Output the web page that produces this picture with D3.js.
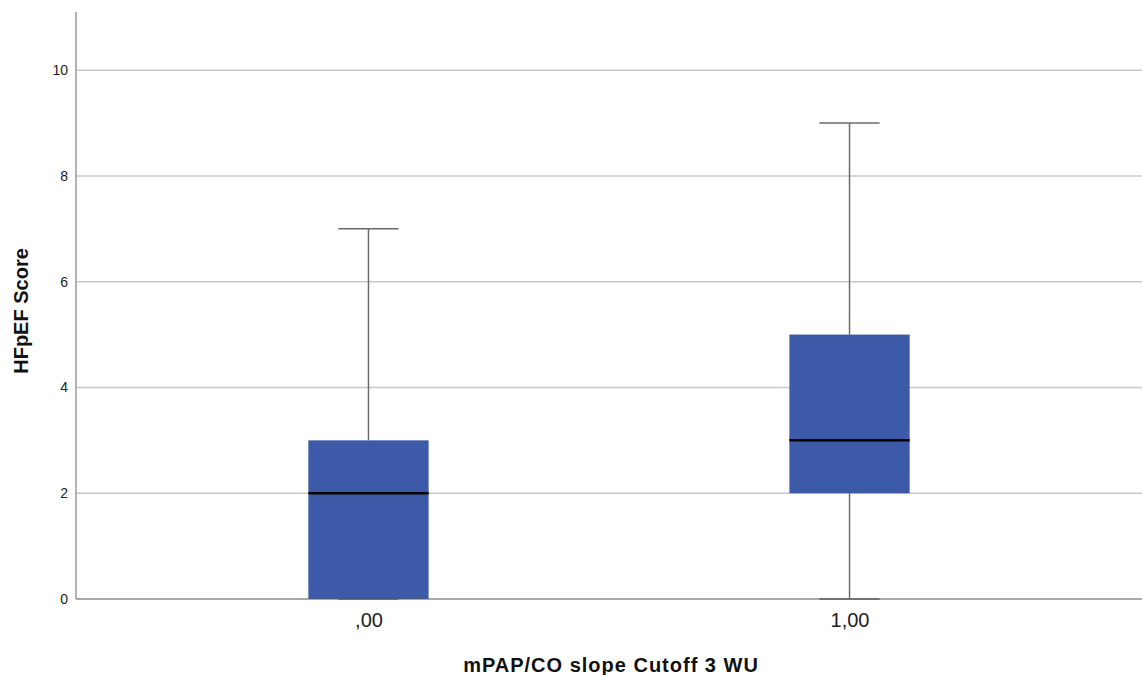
<!DOCTYPE html>
<html>
<head>
<meta charset="utf-8">
<script src="https://cdn.jsdelivr.net/npm/d3@7"></script>
<style>
  body { margin: 0; background: #fff; }
  text { font-family: "Liberation Sans", Arial, sans-serif; }
</style>
</head>
<body>
<div id="chart"></div>
<script>
// categories and five-number summaries
const groups = [",00", "1,00"];
const mins = [0, 0];
const q1s = [0, 2];
const medians = [2, 3];
const q3s = [3, 5];
const maxs = [7, 9];
const yTicks = [0, 2, 4, 6, 8, 10];

const W = 1142, H = 675;
const margin = { top: 12, right: 0, bottom: 76, left: 76 };

const svg = d3.select("#chart").append("svg")
  .attr("width", W)
  .attr("height", H);

const x = d3.scalePoint()
  .domain(groups)
  .range([margin.left, W - margin.right])
  .padding(0.608);

const y = d3.scaleLinear()
  .domain([0, 11.1])
  .range([H - margin.bottom, margin.top]);

const boxW = x.step() * 0.25;

// gridlines
svg.append("g")
  .selectAll("line")
  .data(yTicks.filter(d => d > 0))
  .join("line")
  .attr("x1", margin.left)
  .attr("x2", W - margin.right)
  .attr("y1", d => y(d))
  .attr("y2", d => y(d))
  .attr("stroke", "#c8c8c8")
  .attr("stroke-width", 1.5);

const data = groups.map((g, i) => ({
  g, min: mins[i], q1: q1s[i], med: medians[i], q3: q3s[i], max: maxs[i]
}));

const box = svg.append("g").selectAll("g")
  .data(data)
  .join("g");

// whiskers
box.append("line")
  .attr("x1", d => x(d.g)).attr("x2", d => x(d.g))
  .attr("y1", d => y(d.max)).attr("y2", d => y(d.q3))
  .attr("stroke", "#6b6b6b").attr("stroke-width", 1.5);
box.append("line")
  .attr("x1", d => x(d.g)).attr("x2", d => x(d.g))
  .attr("y1", d => y(d.q1)).attr("y2", d => y(d.min))
  .attr("stroke", "#6b6b6b").attr("stroke-width", 1.5);
box.selectAll(".cap")
  .data(d => [{ g: d.g, v: d.max }, { g: d.g, v: d.min }])
  .join("line")
  .attr("class", "cap")
  .attr("x1", d => x(d.g) - boxW / 4).attr("x2", d => x(d.g) + boxW / 4)
  .attr("y1", d => y(d.v)).attr("y2", d => y(d.v))
  .attr("stroke", "#6b6b6b").attr("stroke-width", 1.5);

// boxes
box.append("rect")
  .attr("x", d => x(d.g) - boxW / 2)
  .attr("width", boxW)
  .attr("y", d => y(d.q3))
  .attr("height", d => y(d.q1) - y(d.q3))
  .attr("fill", "#3d5aa8");

// medians
box.append("line")
  .attr("x1", d => x(d.g) - boxW / 2).attr("x2", d => x(d.g) + boxW / 2)
  .attr("y1", d => y(d.med)).attr("y2", d => y(d.med))
  .attr("stroke", "#000").attr("stroke-width", 2.5);

// y axis
const yAxis = svg.append("g")
  .attr("transform", `translate(${margin.left},0)`)
  .call(d3.axisLeft(y).tickValues(yTicks).tickSize(0).tickPadding(8));
yAxis.select(".domain").attr("stroke", "#9a9a9a").attr("stroke-width", 1.5)
  .attr("d", `M0,${margin.top}V${y(0)}`);
yAxis.selectAll("text").attr("font-size", 14).attr("fill", "#222")
  .attr("font-family", "Liberation Sans, Arial, sans-serif");

// x axis
const xAxis = svg.append("g")
  .attr("transform", `translate(0,${y(0)})`)
  .call(d3.axisBottom(x).tickSize(0).tickPadding(14));
xAxis.select(".domain").attr("stroke", "#555").attr("stroke-width", 1.2)
  .attr("d", `M${margin.left},0H${W}`);
xAxis.selectAll("text").attr("font-size", 20).attr("fill", "#222")
  .attr("font-family", "Liberation Sans, Arial, sans-serif");

// axis titles
svg.append("text")
  .attr("x", 611)
  .attr("y", 672)
  .attr("text-anchor", "middle")
  .attr("font-size", 20)
  .attr("font-weight", "bold")
  .attr("letter-spacing", 1)
  .attr("fill", "#111")
  .text("mPAP/CO slope Cutoff 3 WU");

svg.append("text")
  .attr("transform", "translate(28,311) rotate(-90)")
  .attr("text-anchor", "middle")
  .attr("font-size", 20)
  .attr("font-weight", "bold")
  .attr("fill", "#111")
  .text("HFpEF Score");
</script>
</body>
</html>
